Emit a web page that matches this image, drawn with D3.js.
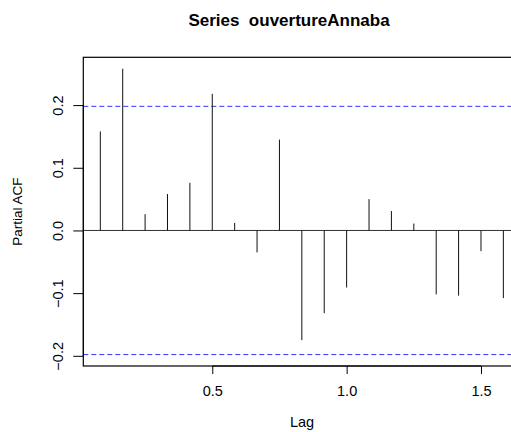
<!DOCTYPE html>
<html>
<head>
<meta charset="utf-8">
<script src="https://cdn.jsdelivr.net/npm/d3@7"></script>
<style>
  html, body { margin: 0; padding: 0; background: #fff; }
  svg { display: block; font-family: "Liberation Sans", Arial, Helvetica, sans-serif; }
</style>
</head>
<body>
<svg id="chart" width="511" height="432"></svg>
<script>
// Partial autocorrelation of the monthly series (frequency 12), lags in years
const seriesName = "ouvertureAnnaba";
const frequency = 12;
const lagCount = 20;
const pacfValues = [
  0.158, 0.258, 0.026, 0.058, 0.076, 0.218, 0.012, -0.035, 0.145, -0.175,
  -0.132, -0.091, 0.050, 0.031, 0.011, -0.102, -0.104, -0.033, -0.108
];
const confLimit = 0.198;
const xTickValues = [0.5, 1.0, 1.5];
const yTickValues = [-0.2, -0.1, 0.0, 0.1, 0.2];

const lags = pacfValues.map((v, i) => (i + 1) / frequency);

const svg = d3.select("#chart");
const plotLeft = 83.3, plotTop = 57.3, plotBottom = 366;

// R-style 4% extension of the data ranges
const xr = [1 / frequency, lagCount / frequency];
const xpad = (xr[1] - xr[0]) * 0.04;
const pxPerUnit = 268.7;
const x = d3.scaleLinear()
  .domain([xr[0] - xpad, xr[1] + xpad])
  .range([plotLeft, plotLeft + (xr[1] - xr[0] + 2 * xpad) * pxPerUnit]);

const yr = d3.extent(pacfValues.concat([-confLimit, confLimit]));
const ypad = (yr[1] - yr[0]) * 0.04;
const y = d3.scaleLinear()
  .domain([yr[0] - ypad, yr[1] + ypad])
  .range([plotBottom, plotTop]);

const plotRight = x.range()[1];

// zero line
svg.append("line")
  .attr("x1", plotLeft).attr("x2", plotRight)
  .attr("y1", y(0)).attr("y2", y(0))
  .attr("stroke", "#333").attr("stroke-width", 1);

// confidence bounds
[confLimit, -confLimit].forEach(c => {
  svg.append("line")
    .attr("x1", plotLeft).attr("x2", plotRight)
    .attr("y1", y(c)).attr("y2", y(c))
    .attr("stroke", "#3535ff").attr("stroke-width", 1)
    .attr("stroke-dasharray", "5,3");
});

// spikes
svg.append("g").selectAll("line")
  .data(pacfValues)
  .join("line")
  .attr("x1", (d, i) => x(lags[i])).attr("x2", (d, i) => x(lags[i]))
  .attr("y1", y(0)).attr("y2", d => y(d))
  .attr("stroke", "#111").attr("stroke-width", 1);

// frame
svg.append("rect")
  .attr("x", plotLeft).attr("y", plotTop)
  .attr("width", plotRight - plotLeft).attr("height", plotBottom - plotTop)
  .attr("fill", "none").attr("stroke", "#000").attr("stroke-width", 1.2);

// x axis
const xAxis = d3.axisBottom(x).tickValues(xTickValues)
  .tickFormat(d3.format(".1f")).tickSize(8).tickPadding(12).tickSizeOuter(0);
const gx = svg.append("g").attr("transform", `translate(0,${plotBottom})`).call(xAxis);
gx.select(".domain").attr("d", `M${x(xTickValues[0])},0H${x(xTickValues[xTickValues.length - 1])}`)
  .attr("stroke", "#000");
gx.selectAll("text").attr("font-size", 14.5).attr("font-family", "Liberation Sans, Arial, sans-serif").attr("fill", "#000");

// y axis with rotated labels
const yAxis = d3.axisLeft(y).tickValues(yTickValues)
  .tickFormat(d3.format(".1f")).tickSize(10).tickSizeOuter(0);
const gy = svg.append("g").attr("transform", `translate(${plotLeft},0)`).call(yAxis);
gy.select(".domain").attr("d", `M0,${y(yTickValues[0])}V${y(yTickValues[yTickValues.length - 1])}`);
gy.selectAll(".tick text")
  .attr("x", null)
  .attr("text-anchor", "middle")
  .attr("transform", "translate(-26,0) rotate(-90)")
  .attr("dy", "0.36em")
  .attr("font-size", 14.5).attr("font-family", "Liberation Sans, Arial, sans-serif").attr("fill", "#000");

// titles
svg.append("text")
  .attr("x", 289).attr("y", 26)
  .attr("text-anchor", "middle")
  .attr("font-weight", "bold").attr("font-size", 17)
  .style("white-space", "pre")
  .text("Series  " + seriesName);

svg.append("text")
  .attr("x", 302).attr("y", 427)
  .attr("text-anchor", "middle").attr("font-size", 14.5)
  .text("Lag");

svg.append("text")
  .attr("transform", `translate(22,${(plotTop + plotBottom) / 2}) rotate(-90)`)
  .attr("text-anchor", "middle").attr("font-size", 13.5)
  .text("Partial ACF");
</script>
</body>
</html>
